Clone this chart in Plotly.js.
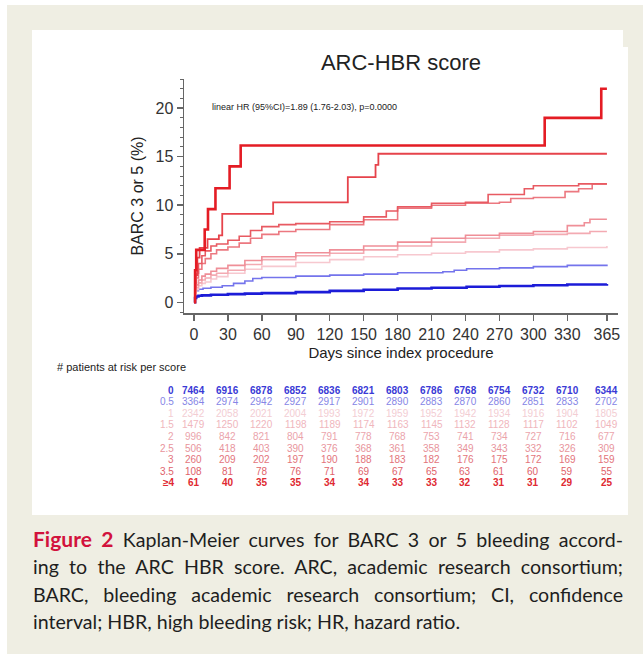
<!DOCTYPE html>
<html>
<head>
<meta charset="utf-8">
<script src="https://cdn.plot.ly/plotly-3.0.1.min.js"></script>
<style>
  html, body { margin:0; padding:0; background:#ffffff; }
  #wrap { position:relative; width:643px; height:654px; overflow:hidden; }
  #chart { position:absolute; left:0; top:0; width:643px; height:654px; }
  #cap { position:absolute; left:33px; top:525px; width:590px; font-family:Lato, "Open Sans", sans-serif;
         font-size:19.6px; line-height:27.4px; color:#1e1e1e; }
  #cap .l { text-align:justify; text-align-last:justify; white-space:nowrap; }
  #cap .last { text-align:left; }
  #cap b { color:#d2123c; font-size:21px; font-weight:700; }
</style>
</head>
<body>
<div id="wrap">
<div id="chart"></div>
<div id="cap">
  <div class="l"><b>Figure 2</b> Kaplan-Meier curves for BARC 3 or 5 bleeding accord-</div>
  <div class="l">ing to the ARC HBR score. ARC, academic research consortium;</div>
  <div class="l">BARC, bleeding academic research consortium; CI, confidence</div>
  <div class="last">interval; HBR, high bleeding risk; HR, hazard ratio.</div>
</div>
</div>
<script>
// ---- data ----
const scoreLabels = ["0", "0.5", "1", "1.5", "2", "2.5", "3", "3.5", "\u22654"];
const tickDays = [0, 30, 60, 90, 120, 150, 180, 210, 240, 270, 300, 330, 365];

const days0 = [0,1,2,4,7,15,30,45,60,90,120,150,180,210,241,270,300,330,365];
const pct0  = [0,0.45,0.6,0.68,0.72,0.78,0.84,0.9,0.95,1.05,1.18,1.3,1.42,1.5,1.6,1.68,1.76,1.83,1.88];

const days05 = [0,1,2,4,8,15,25,35,45,52,60,90,120,150,180,220,230,241,270,300,330,365];
const pct05  = [0,0.9,1.2,1.35,1.45,1.55,1.7,1.95,2.2,2.45,2.55,2.7,2.8,2.9,3.05,3.15,3.3,3.45,3.55,3.68,3.8,3.9];

const days1 = [0,1,2,4,7,10,15,20,30,45,60,90,120,150,180,210,240,270,300,330,365];
const pct1  = [0,0.9,1.3,1.7,1.95,2.1,2.4,2.65,3.0,3.4,3.7,4.1,4.4,4.7,4.9,5.05,5.2,5.4,5.5,5.65,5.8];

const days15 = [0,1,2,4,7,10,15,20,30,45,60,90,120,150,180,210,240,270,300,330,350,365];
const pct15  = [0,1.0,1.5,2.0,2.3,2.5,2.8,3.0,3.3,3.9,4.4,4.8,5.05,5.4,5.8,6.2,6.6,6.9,7.0,7.1,7.3,7.3];

const days2 = [0,1,2,4,7,10,15,20,30,45,60,90,120,150,180,210,240,270,300,330,345,350,365];
const pct2  = [0,1.2,1.8,2.3,2.7,2.9,3.2,3.5,3.8,4.3,4.7,5.1,5.4,5.8,6.2,6.6,6.9,7.1,7.3,7.9,8.2,8.55,8.55];

const days25 = [0,1,2,4,7,10,15,20,30,40,50,60,75,90,120,150,180,210,240,270,280,300,328,340,352,365];
const pct25  = [0,1.5,2.5,3.4,4.0,4.5,5.0,5.4,5.7,6.1,6.6,7.0,7.3,7.5,8.0,8.5,9.7,10.0,10.2,10.3,10.7,10.8,11.4,11.7,12.2,12.2];

const days3 = [0,1,2,4,7,10,15,20,30,40,50,60,75,90,120,150,170,180,210,240,260,292,300,310,340,365];
const pct3  = [0,2.0,3.0,4.0,4.8,5.3,5.8,6.0,6.4,6.8,7.4,7.8,8.0,8.1,8.3,8.8,9.4,9.85,10.2,10.3,11.1,11.7,12.0,12.0,12.2,12.2];

const days35 = [0,1,3,5,12,22,25,70,136,160.5,163,365];
const pct35  = [0,2.8,4.6,5.6,6.5,6.9,9.1,10.3,12.9,14.15,15.3,15.3];

const days4 = [0,1,2,9.5,12.4,19,31.5,41.3,310,360,365];
const pct4  = [0,3.3,5.4,7.5,9.6,11.75,14.0,16.15,19.0,22.0,22.0];

const risk0  = [7464,6916,6878,6852,6836,6821,6803,6786,6768,6754,6732,6710,6344];
const risk05 = [3364,2974,2942,2927,2917,2901,2890,2883,2870,2860,2851,2833,2702];
const risk1  = [2342,2058,2021,2004,1993,1972,1959,1952,1942,1934,1916,1904,1805];
const risk15 = [1479,1250,1220,1198,1189,1174,1163,1145,1132,1128,1117,1102,1049];
const risk2  = [996,842,821,804,791,778,768,753,741,734,727,716,677];
const risk25 = [506,418,403,390,376,368,361,358,349,343,332,326,309];
const risk3  = [260,209,202,197,190,188,183,182,176,175,172,169,159];
const risk35 = [108,81,78,76,71,69,67,65,63,61,60,59,55];
const risk4  = [61,40,35,35,34,34,33,33,32,31,31,29,25];

// ---- styling ----
const curveColors = ["#1c1cd8", "#7474ec", "#f7c8cf", "#f3aab2", "#ef8f98", "#ec7880", "#e85a62", "#e6434b", "#e41c24"];
const tableColors = ["#3a3ad6", "#8686e6", "#f3cdd3", "#f0b6bd", "#eba4ab", "#e8949b", "#e3747b", "#e0626a", "#e02a32"];
const widths = [2.6, 1.6, 1.6, 1.6, 1.6, 1.6, 1.6, 1.8, 2.6];

const allDays = [days0, days05, days1, days15, days2, days25, days3, days35, days4];
const allPct  = [pct0, pct05, pct1, pct15, pct2, pct25, pct3, pct35, pct4];
const allRisk = [risk0, risk05, risk1, risk15, risk2, risk25, risk3, risk35, risk4];

const traces = allDays.map((d, i) => ({
  x: d, y: allPct[i], type: "scatter", mode: "lines",
  line: { shape: "hv", color: curveColors[i], width: widths[i] },
  name: scoreLabels[i], showlegend: false, hoverinfo: "skip"
}));

// plot geometry (pixels)
const L = 184, R = 25, T = 79, B = 341, Wd = 643, Ht = 654;
const PW = Wd - L - R, PH = Ht - T - B;
const pxX = px => (px - L) / PW;
const pxY = py => (Ht - B - py) / PH;

const font = "Arial, 'Liberation Sans', sans-serif";
const annotations = [];

annotations.push({
  xref: "paper", yref: "paper", x: pxX(210), y: pxY(107), xanchor: "left", yanchor: "middle",
  text: "linear HR (95%CI)=1.89 (1.76-2.03), p=0.0000", showarrow: false,
  font: { family: font, size: 9, color: "#222" }
});
annotations.push({
  xref: "paper", yref: "paper", x: pxX(55), y: pxY(367), xanchor: "left", yanchor: "middle",
  text: "# patients at risk per score", showarrow: false,
  font: { family: font, size: 11, color: "#222" }
});

const row0 = 390, rowStep = 11.6;
scoreLabels.forEach((lab, i) => {
  const yy = pxY(row0 + i * rowStep);
  const bold = (i === 0 || i === 8);
  annotations.push({
    xref: "paper", yref: "paper", x: pxX(176), y: yy, xanchor: "right", yanchor: "middle",
    text: bold ? "<b>" + lab + "</b>" : lab, showarrow: false,
    font: { family: font, size: 10, color: tableColors[i] }
  });
  allRisk[i].forEach((v, j) => {
    annotations.push({
      xref: "x", yref: "paper", x: tickDays[j], y: yy, xanchor: "center", yanchor: "middle",
      text: bold ? "<b>" + v + "</b>" : String(v), showarrow: false,
      font: { family: font, size: 10, color: tableColors[i] }
    });
  });
});

const shapes = [
  { type: "rect", xref: "paper", yref: "paper", layer: "below",
    x0: pxX(7), x1: pxX(643), y0: pxY(5), y1: pxY(654), fillcolor: "#efeee3", line: { width: 0 } },
  { type: "rect", xref: "paper", yref: "paper", layer: "below",
    x0: pxX(32), x1: pxX(623), y0: pxY(30), y1: pxY(515), fillcolor: "#ffffff", line: { width: 0 } },
  { type: "rect", xref: "paper", yref: "paper", layer: "below",
    x0: pxX(32), x1: pxX(628), y0: pxY(47), y1: pxY(515), fillcolor: "#ffffff", line: { width: 0 } }
];

const layout = {
  width: Wd, height: Ht,
  margin: { l: L, r: R, t: T, b: B, pad: 0 },
  paper_bgcolor: "#ffffff", plot_bgcolor: "rgba(0,0,0,0)",
  showlegend: false,
  title: { text: "ARC-HBR score", xref: "paper", x: 0.5, xanchor: "center",
           yref: "container", y: 1 - 62 / Ht, yanchor: "middle",
           font: { family: font, size: 22, color: "#222" } },
  xaxis: {
    range: [-8.8, 374.8], tickvals: tickDays, ticktext: tickDays.map(String),
    showgrid: false, zeroline: false, showline: true, linecolor: "#666", linewidth: 1.5,
    ticks: "outside", ticklen: 6, tickwidth: 1.5, tickcolor: "#666",
    tickfont: { family: font, size: 16, color: "#333" },
    title: { text: "Days since index procedure", standoff: 6,
             font: { family: font, size: 15, color: "#222" } }
  },
  yaxis: {
    range: [-1.1, 23.0], tickvals: [0, 5, 10, 15, 20],
    showgrid: false, zeroline: false, showline: true, linecolor: "#666", linewidth: 1.5,
    ticks: "outside", ticklen: 6, tickwidth: 1.5, tickcolor: "#666",
    minor: { dtick: 1, tick0: 0, ticks: "outside", ticklen: 3, tickwidth: 1, tickcolor: "#666", showgrid: false },
    tickfont: { family: font, size: 16, color: "#333" },
    title: { text: "BARC 3 or 5 (%)", standoff: 8,
             font: { family: font, size: 16, color: "#222" } }
  },
  annotations: annotations,
  shapes: shapes
};

Plotly.newPlot("chart", traces, layout, { displayModeBar: false, staticPlot: true });
</script>
</body>
</html>
